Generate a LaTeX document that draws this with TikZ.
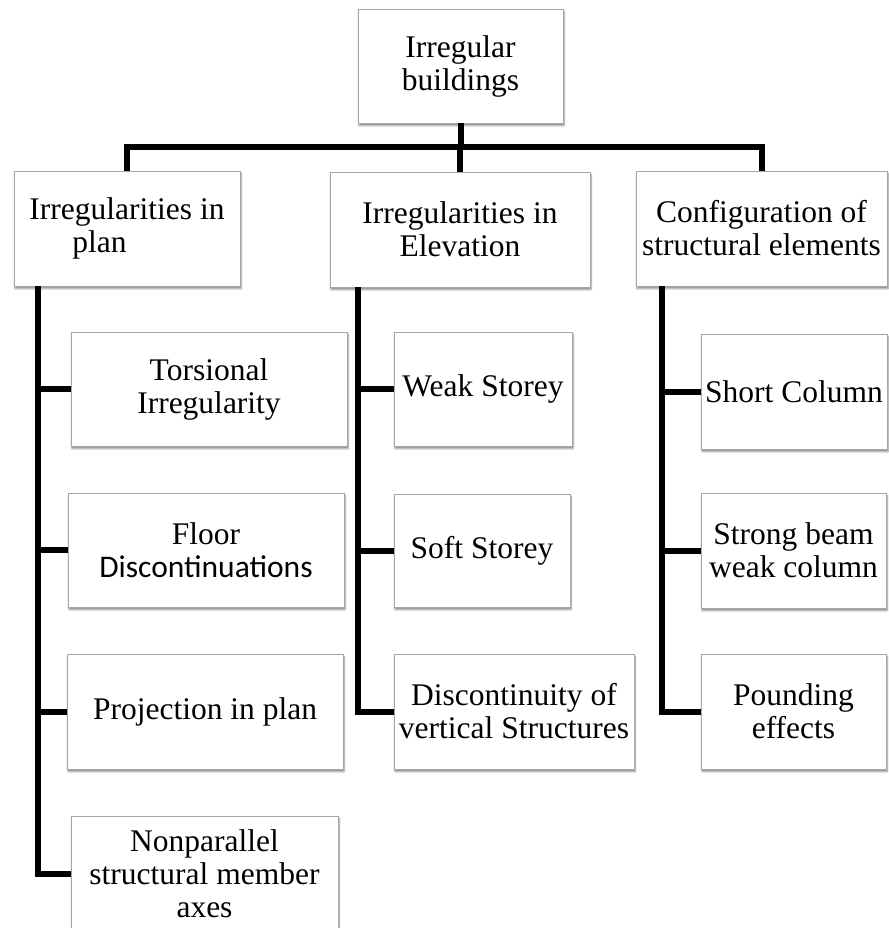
\documentclass[tikz,border=0pt]{standalone}
\usepackage{fontspec}
\setmainfont{Liberation Serif}
\newfontfamily\calfont{Carlito}
\usetikzlibrary{shadows.blur}
\begin{document}
\begin{tikzpicture}[x=1pt,y=-1pt,
  box/.style={draw=gray!70, line width=0.9pt, fill=white, align=center, inner sep=0pt,
    font=\fontsize{31.5}{33}\selectfont,
    blur shadow={shadow xshift=1pt, shadow yshift=-2.5pt, shadow blur radius=2pt, shadow opacity=50}},
  link/.style={line width=6pt, line join=miter, draw=black}]
\useasboundingbox (0,0) rectangle (888,928);

% level 0
\node[box, minimum width=205pt, minimum height=114pt] (root) at (460.5,66) {Irregular\\buildings};
% level 1
\node[box, align=left, minimum width=226pt, minimum height=115pt] (plan) at (127,228.5) {Irregularities in\\\hspace*{43pt}plan};
\node[box, minimum width=260pt, minimum height=115pt] (elev) at (460,229.5) {Irregularities in\\Elevation};
\node[box, minimum width=251pt, minimum height=115pt] (conf) at (761.5,228.5) {Configuration of\\structural elements};
% plan children
\node[box, minimum width=276pt, minimum height=114pt] (tors) at (209,389) {Torsional\\Irregularity};
\node[box, minimum width=276pt, minimum height=114pt] (floor) at (206,550) {Floor\\{\calfont Discontinuations}};
\node[box, minimum width=276pt, minimum height=115pt] (proj) at (205,711.5) {Projection in plan};
\node[box, minimum width=267pt, minimum height=116pt] (nonpar) at (204.5,874) {Nonparallel\\structural member\\axes};
% elevation children
\node[box, minimum width=178pt, minimum height=114pt] (weak) at (483,389) {Weak Storey};
\node[box, minimum width=176pt, minimum height=113pt] (soft) at (482,550.5) {Soft Storey};
\node[box, minimum width=240pt, minimum height=115pt] (disc) at (514,711.5) {Discontinuity of\\vertical Structures};
% configuration children
\node[box, minimum width=186pt, minimum height=115pt] (short) at (794,391.5) {Short Column};
\node[box, minimum width=185pt, minimum height=115pt] (strong) at (793.5,550.5) {Strong beam\\weak column};
\node[box, minimum width=185pt, minimum height=115pt] (pound) at (793.5,711.5) {Pounding\\effects};

% connectors
\coordinate (hb) at (0,147);
\coordinate (lx) at (38,0);
\coordinate (mx) at (358,0);
\coordinate (rx) at (662,0);

\draw[link] (root.south) -- (root.south |- hb);
\draw[link] (plan.north) -- (plan.north |- hb) -- (conf.north |- hb) -- (conf.north);
\draw[link] (elev.north) -- (elev.north |- hb);

\draw[link] (lx |- plan.south) -- (lx |- nonpar.west) -- (nonpar.west);
\foreach \n in {tors,floor,proj} \draw[link] (lx |- \n.west) -- (\n.west);

\draw[link] (mx |- elev.south) -- (mx |- disc.west) -- (disc.west);
\foreach \n in {weak,soft} \draw[link] (mx |- \n.west) -- (\n.west);

\draw[link] (rx |- conf.south) -- (rx |- pound.west) -- (pound.west);
\foreach \n in {short,strong} \draw[link] (rx |- \n.west) -- (\n.west);
\end{tikzpicture}
\end{document}
